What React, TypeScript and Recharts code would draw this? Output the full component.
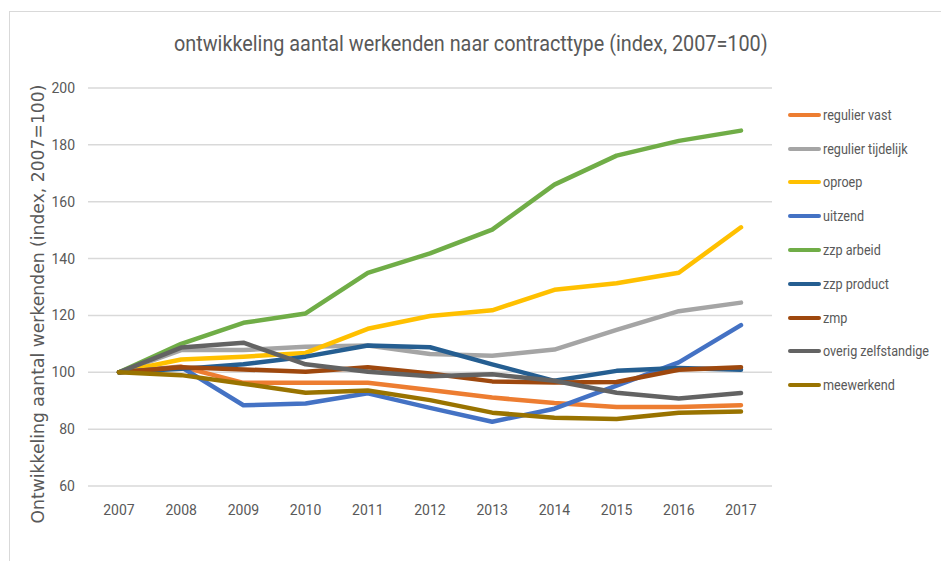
import { LineChart, Line, XAxis, YAxis, CartesianGrid } from "recharts";

const years = ["2007", "2008", "2009", "2010", "2011", "2012", "2013", "2014", "2015", "2016", "2017"];

const reguliereVast = [100, 102, 96.3, 96.3, 96.3, 93.8, 91.1, 89.2, 87.8, 87.8, 88.4];
const regulierTijdelijk = [100, 107.8, 107.8, 109, 109.4, 106.4, 105.8, 108, 114.9, 121.5, 124.5];
const oproep = [100, 104.5, 105.5, 106.8, 115.3, 119.8, 121.8, 129, 131.3, 135, 151];
const uitzend = [100, 101.8, 88.4, 89, 92.6, 87.5, 82.6, 87.2, 95.3, 103.5, 116.6];
const zzpArbeid = [100, 110, 117.4, 120.7, 135, 141.8, 150.2, 166, 176.2, 181.4, 185];
const zzpProduct = [100, 101.2, 102.8, 105.5, 109.4, 108.8, 102.8, 97, 100.5, 101.5, 100.9];
const zmp = [100, 101.8, 101, 100.2, 101.8, 99.6, 96.8, 96.4, 96.6, 100.9, 101.8];
const overigZelfstandige = [100, 108.7, 110.4, 102.8, 100.2, 98.6, 99.3, 97, 92.8, 90.8, 92.7];
const meewerkend = [100, 99, 96, 92.8, 93.6, 90.2, 85.8, 84, 83.6, 85.8, 86.2];

const yTicks = [60, 80, 100, 120, 140, 160, 180, 200];

const series = [
  { key: "regulier vast", values: reguliereVast, color: "#ED7D31" },
  { key: "regulier tijdelijk", values: regulierTijdelijk, color: "#A5A5A5" },
  { key: "oproep", values: oproep, color: "#FFC000" },
  { key: "uitzend", values: uitzend, color: "#4472C4" },
  { key: "zzp arbeid", values: zzpArbeid, color: "#70AD47" },
  { key: "zzp product", values: zzpProduct, color: "#255E91" },
  { key: "zmp", values: zmp, color: "#9E480E" },
  { key: "overig zelfstandige", values: overigZelfstandige, color: "#636363" },
  { key: "meewerkend", values: meewerkend, color: "#997300" },
];

const data = years.map((year, i) => {
  const row: Record<string, string | number> = { year };
  series.forEach((s) => {
    row[s.key] = s.values[i];
  });
  return row;
});

const font = "Roboto, 'Open Sans', sans-serif";

function LegendList() {
  return (
    <div
      style={{
        position: "absolute",
        left: 788,
        top: 98,
        fontFamily: font,
        fontSize: 14,
        color: "#595959",
        whiteSpace: "nowrap",
      }}
    >
      {series.map((s) => (
        <div key={s.key} style={{ display: "flex", alignItems: "center", height: 33.8 }}>
          <span style={{ display: "inline-block", width: 33, height: 4, borderRadius: 2, background: s.color, marginRight: 2 }} />
          <span style={{ display: "inline-block", transform: "scaleX(0.9)", transformOrigin: "left center" }}>{s.key}</span>
        </div>
      ))}
    </div>
  );
}

export default function App() {
  return (
    <div style={{ position: "absolute", left: 0, top: 0, width: 941, height: 561, background: "#fff", overflow: "hidden" }}>
      <div
        style={{
          position: "absolute",
          left: 9,
          top: 11,
          width: 940,
          height: 560,
          border: "1.5px solid #d9d9d9",
          boxSizing: "border-box",
        }}
      />
      <div
        style={{
          position: "absolute",
          left: 0,
          top: 31,
          width: 941,
          textAlign: "center",
          fontFamily: font,
          fontSize: 22,
          color: "#595959",
          whiteSpace: "nowrap",
        }}
      >
        <span style={{ display: "inline-block", transform: "scaleX(0.9)" }}>
          ontwikkeling aantal werkenden naar contracttype (index, 2007=100)
        </span>
      </div>
      <div style={{ position: "absolute", left: 0, top: 0 }}>
        <LineChart width={941} height={561} data={data} margin={{ top: 88, right: 169, bottom: 45, left: 0 }}>
          <CartesianGrid vertical={false} stroke="#d9d9d9" strokeWidth={1.5} />
          <XAxis
            dataKey="year"
            axisLine={false}
            tickLine={false}
            tickSize={0}
            tickMargin={19}
            padding={{ left: 31, right: 31 }}
            tick={{ fill: "#595959", fontSize: 14, fontFamily: font }}
            interval={0}
          />
          <YAxis
            width={88}
            domain={[60, 200]}
            ticks={yTicks}
            axisLine={false}
            tickLine={false}
            tickSize={0}
            tickMargin={13}
            tick={{ fill: "#595959", fontSize: 14, fontFamily: font }}
            label={{
              value: "Ontwikkeling aantal werkenden (index, 2007=100)",
              angle: -90,
              position: "insideLeft",
              offset: 0,
              dx: 38,
              dy: 17,
              style: { fill: "#595959", fontSize: 17.2, fontFamily: "'DejaVu Sans', sans-serif", textAnchor: "middle" },
            }}
          />
          {series.map((s) => (
            <Line
              key={s.key}
              type="linear"
              dataKey={s.key}
              stroke={s.color}
              strokeWidth={4.5}
              strokeLinecap="round"
              strokeLinejoin="round"
              dot={false}
              activeDot={false}
              isAnimationActive={false}
            />
          ))}
        </LineChart>
      </div>
      <LegendList />
    </div>
  );
}
